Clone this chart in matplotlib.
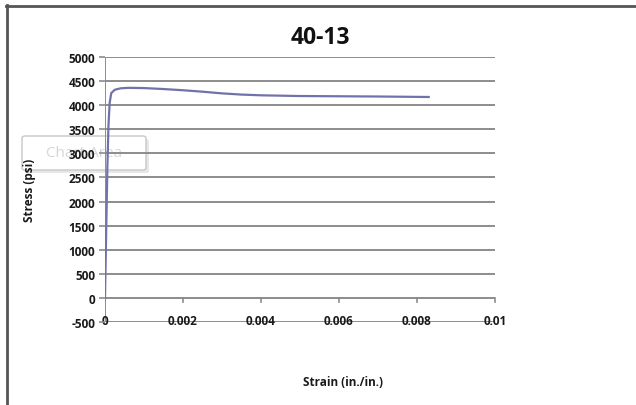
import matplotlib
matplotlib.use("Agg")
import matplotlib.pyplot as plt
from matplotlib.lines import Line2D
from matplotlib.patches import FancyBboxPatch

strain = [0.0, 0.00002, 0.00004, 0.00006, 0.00009, 0.00012, 0.00016, 0.00025, 0.0004,
          0.0006, 0.001, 0.0015, 0.002, 0.0025, 0.003, 0.0035, 0.004, 0.005, 0.006,
          0.007, 0.0083]
stress = [0, 900, 1800, 2700, 3600, 4050, 4250, 4320, 4350, 4360, 4355, 4335, 4310,
          4280, 4245, 4220, 4205, 4190, 4185, 4180, 4170]
xticks = [0, 0.002, 0.004, 0.006, 0.008, 0.01]
xticklabels = ["0", "0.002", "0.004", "0.006", "0.008", "0.01"]
yticks = list(range(-500, 5001, 500))

W, H = 636, 406
fig = plt.figure(figsize=(W / 100, H / 100), dpi=100)
fig.patch.set_facecolor("white")
font = "Open Sans"

ax = fig.add_axes([105 / W, 1 - 323 / H, 390 / W, 265 / H])
ax.set_facecolor("none")
ax.set_xlim(0, 0.01)
ax.set_ylim(-500, 5000)

grid_c = "#8c8c8c"
for y in yticks:
    ax.axhline(y, color=grid_c, lw=1.4, zorder=1)
ax.axvline(0, color=grid_c, lw=1.4, zorder=1)
# x tick marks below the zero line
for xt in xticks[1:]:
    ax.plot([xt, xt], [0, -90], color=grid_c, lw=1.2, zorder=1, clip_on=False)

for s in ax.spines.values():
    s.set_visible(False)

ax.plot(strain, stress, color="#7272aa", lw=1.6, zorder=3)

ax.set_xticks(xticks)
ax.set_xticklabels(xticklabels)
ax.set_yticks(yticks)
ax.set_yticklabels([str(v) for v in yticks])
ax.tick_params(axis="x", length=0, pad=-6)
ax.tick_params(axis="y", length=4, color=grid_c, width=1.2, pad=3)
for lab in ax.get_xticklabels() + ax.get_yticklabels():
    lab.set_fontfamily(font)
    lab.set_fontsize(8.5)
    lab.set_fontweight("bold")
    lab.set_color("#1a1a1a")
    lab.set_zorder(5)

fig.text(320 / W, 1 - 38 / H, "40-13", ha="center", va="center",
         fontsize=16.5, fontweight="bold", fontfamily=font, color="#111111")
fig.text(30 / W, 1 - 190 / H, "Stress (psi)", ha="center", va="center", rotation=90,
         fontsize=8.5, fontweight="bold", fontfamily=font, color="#1a1a1a")
fig.text(343 / W, 1 - 383 / H, "Strain (in./in.)", ha="center", va="center",
         fontsize=8.5, fontweight="bold", fontfamily=font, color="#1a1a1a")

# "Chart Area" tooltip remnant
shadow = FancyBboxPatch((25 / W, 1 - 174 / H), 124 / W, 34 / H,
                        boxstyle="round,pad=0,rounding_size=0.005",
                        transform=fig.transFigure, facecolor="#d8d8d8",
                        edgecolor="none", alpha=0.6, zorder=-2)
box = FancyBboxPatch((22 / W, 1 - 171 / H), 124 / W, 34 / H,
                     boxstyle="round,pad=0,rounding_size=0.005",
                     transform=fig.transFigure, facecolor="white",
                     edgecolor="#c8c8c8", lw=1, zorder=-1)
fig.patches.extend([shadow, box])
fig.text(84 / W, 1 - 154 / H, "Chart Area", ha="center", va="center",
         fontsize=11, fontfamily=font, color="#d6d6d6", zorder=-0.5)

# outer frame (top and left)
fig.lines.append(Line2D([6 / W, 1.0], [1 - 6.5 / H, 1 - 6.5 / H], transform=fig.transFigure,
                        color="#555555", lw=2))
fig.lines.append(Line2D([6.5 / W, 6.5 / W], [0, 1 - 6 / H], transform=fig.transFigure,
                        color="#555555", lw=2))

fig.savefig("out.png", dpi=100, facecolor="white")
